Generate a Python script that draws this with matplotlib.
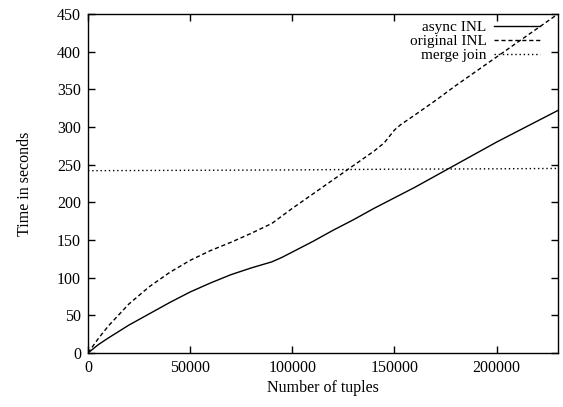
import matplotlib
matplotlib.use("Agg")
import matplotlib.pyplot as plt

# tuples vs. time (seconds)
async_x = [0, 5000, 10000, 20000, 30000, 40000, 50000, 60000, 70000, 80000, 90000, 95000,
           100000, 110000, 120000, 130000, 140000, 150000, 160000, 170000, 180000, 190000,
           200000, 210000, 220000, 230000]
async_y = [0, 11, 20, 37, 52, 67, 81, 93, 104, 113, 121, 127,
           134, 148, 163, 177, 192, 206, 220, 235, 250, 265,
           280, 294, 308, 322]

orig_x = [0, 5000, 10000, 20000, 30000, 40000, 50000, 60000, 70000, 80000, 90000, 95000,
          100000, 110000, 120000, 130000, 140000, 145000, 150000, 153000, 160000, 170000,
          180000, 190000, 200000, 210000, 220000, 230000]
orig_y = [0, 19, 36, 65, 88, 107, 123, 136, 147, 159, 172, 182,
          192, 211, 230, 249, 268, 279, 296, 303, 316, 335,
          355, 374, 393, 412, 431, 450]

merge_x = [0, 50000, 100000, 150000, 200000, 230000]
merge_y = [242, 242.5, 243, 244, 244.5, 245]

plt.rcParams['font.family'] = ['Liberation Serif', 'DejaVu Serif']
plt.rcParams['font.size'] = 11.5

fig = plt.figure(figsize=(5.63, 4.07), dpi=100)
ax = fig.add_axes([0.1563, 0.1327, 0.8347, 0.8329])

ax.plot(async_x, async_y, color='black', lw=1.0, label='async INL')
ax.plot(orig_x, orig_y, color='black', lw=1.0, linestyle=(0, (3, 2)), label='original INL')
ax.plot(merge_x, merge_y, color='black', lw=1.0, linestyle=(0, (1, 2)), label='merge join')

ax.set_xlim(0, 230000)
ax.set_ylim(0, 450)
ax.set_xticks([0, 50000, 100000, 150000, 200000])
ax.set_yticks(range(0, 451, 50))
ax.tick_params(direction='in', top=True, right=True, length=5, width=1, pad=5)
for s in ax.spines.values():
    s.set_linewidth(1)

ax.set_xlabel('Number of tuples', labelpad=3)
ax.set_ylabel('Time in seconds', labelpad=17)

ax.legend(loc='upper right', bbox_to_anchor=(0.962, 0.98), frameon=False,
          markerfirst=False, handlelength=3.0, labelspacing=0.0, fontsize=11,
          borderaxespad=0, borderpad=0, handletextpad=0.5)

fig.savefig('out.png', dpi=100)
